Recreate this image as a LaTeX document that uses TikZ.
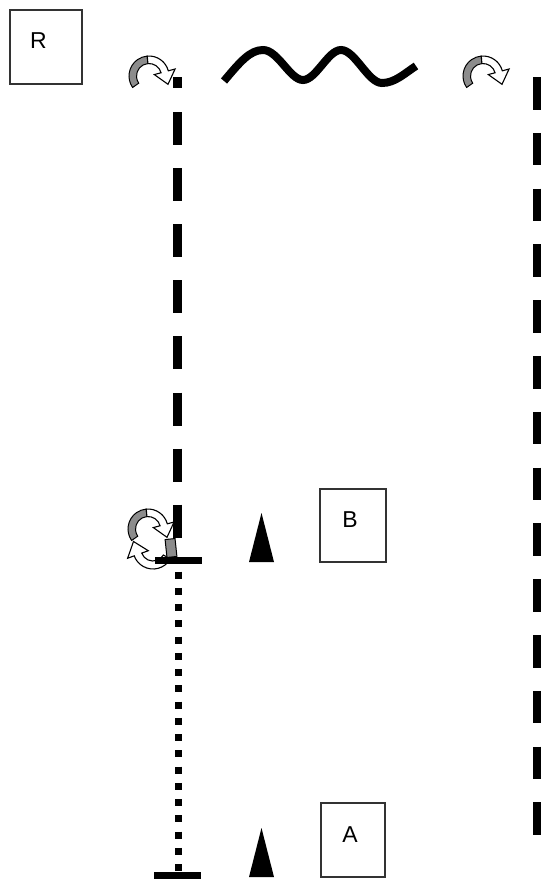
\documentclass[tikz,border=0pt]{standalone}
\usepackage{fontspec}
\setmainfont{Liberation Sans}
\usetikzlibrary{patterns}
\tikzset{
  hatchband/.style={draw=black, line width=1pt, fill=black!45},
  whitearrow/.style={draw=black, line width=1.1pt, fill=white, line join=miter},
  labelbox/.style={draw=black!80, line width=1.2pt, inner sep=0pt},
  lbl/.style={inner sep=0pt, font=\fontsize{23}{23}\selectfont},
  thickdash/.style={line width=8.5pt, dash pattern=on 33pt off 23.1pt},
  rightdash/.style={line width=8.5pt, dash pattern=on 32.5pt off 23.3pt},
  dotline/.style={line width=7pt, dash pattern=on 7pt off 9.25pt},
  curvarrow/.pic={
    \begin{scope}[yscale=-1]
      \path[hatchband] (215:20) arc[start angle=215,end angle=95,radius=20]
        -- (95:12.5) arc[start angle=95,end angle=215,radius=12.5] -- cycle;
      \path[whitearrow] (95:20) arc[start angle=95,end angle=15,radius=20]
        -- (15:27) -- (19.0,-8.3) -- (15:5.5)
        -- (15:12.5) arc[start angle=15,end angle=95,radius=12.5] -- cycle;
    \end{scope}
  }
}
\begin{document}
\begin{tikzpicture}[x=1pt,y=-1pt]
\useasboundingbox (0,0) rectangle (541,879);
\fill[white] (0,0) rectangle (541,879);

% boxes
\node[labelbox, minimum width=72pt, minimum height=74pt] (R) at (46,47) {};
\node[lbl] (Rl) at (38.5,41) {R};
\node[labelbox, minimum width=66pt, minimum height=73pt] (B) at (353,525.5) {};
\node[lbl] (Bl) at (350,519.5) {B};
\node[labelbox, minimum width=64pt, minimum height=74pt] (A) at (353,840) {};
\node[lbl] (Al) at (350,834.5) {A};

% left dashed line
\coordinate (L0) at (177.5,77);
\coordinate (L1) at (177.5,88);
\coordinate (L2) at (177.5,112);
\coordinate (L3) at (177.5,538);
\draw[line width=8.5pt] (L0) -- (L1);
\draw[thickdash] (L2) -- (L3);

% right dashed line
\coordinate (Rt) at (537,77);
\coordinate (Rb) at (537,835);
\draw[rightdash] (Rt) -- (Rb);

% dotted line
\coordinate (D0) at (178,571.5);
\coordinate (D1) at (178,871);
\draw[dotline] (D0) -- (D1);

% wave
\draw[line width=8pt] (224,81) .. controls (240,62) and (250,50) .. (263,50)
  .. controls (278,50) and (290,80) .. (303,80)
  .. controls (316,80) and (328,50) .. (341,50)
  .. controls (355,50) and (368,83) .. (382,83)
  .. controls (395,83) and (405,73) .. (416,66);

% curved arrows at top
\pic at (149,76) {curvarrow};
\pic at (483,76) {curvarrow};

% circular arrows at B
\begin{scope}[shift={(153,549)}, yscale=-1]
  \path[whitearrow] (-30:20) arc[start angle=-30,end angle=-160,radius=20]
    -- (-160:27) -- (-19.5,7.5) -- (-160:5)
    -- (-160:12) arc[start angle=-160,end angle=-30,radius=12] -- cycle;
\end{scope}
\path[hatchband, rotate around={6:(171,548)}] (166,539) rectangle (176,557);
\pic at (148,529) {curvarrow};

% T bars
\fill (155,557) rectangle (202,564);
\fill (154,872) rectangle (201,879);

% triangles
\fill (249,562) -- (261.5,513) -- (274,562) -- cycle;
\fill (249,877) -- (261.5,828) -- (274,877) -- cycle;
\end{tikzpicture}
\end{document}
